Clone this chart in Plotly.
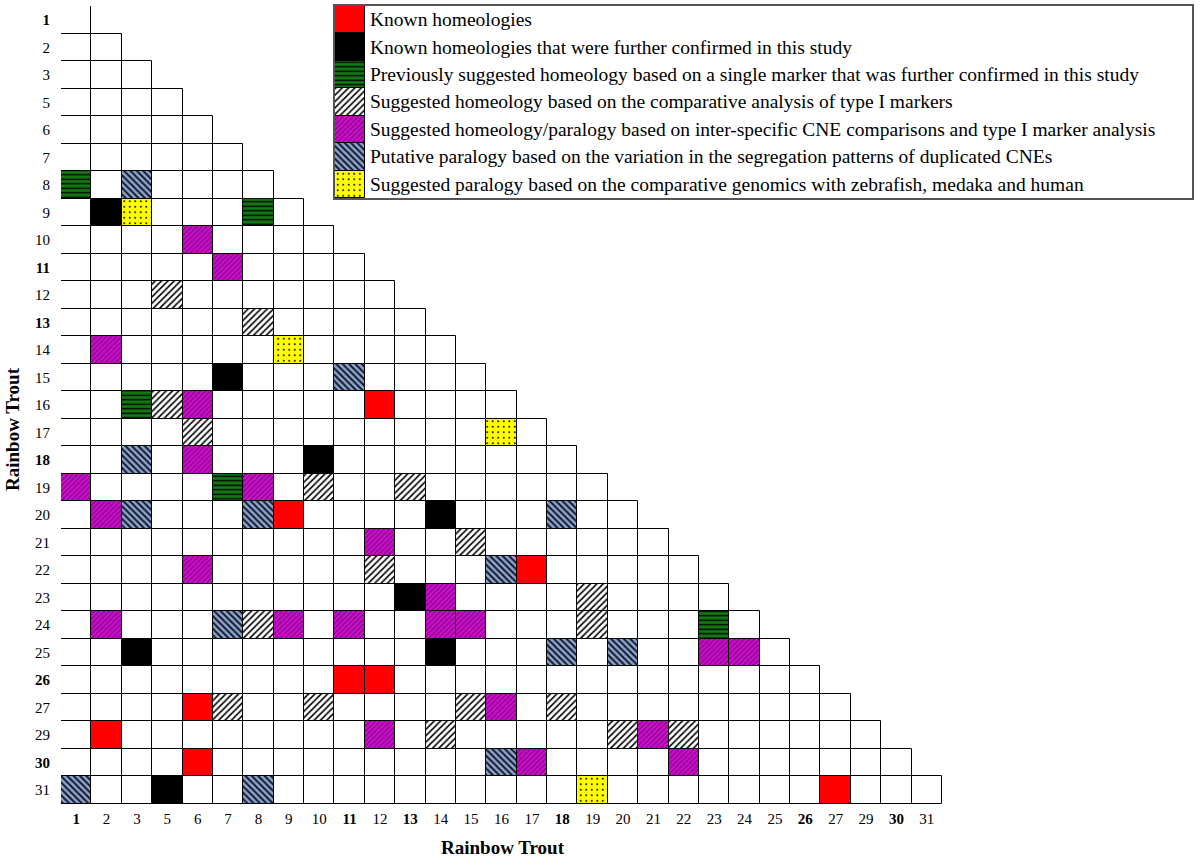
import plotly.graph_objects as go

# ---------------- data ----------------
chromosomes = [1, 2, 3, 5, 6, 7, 8, 9, 10, 11, 12, 13, 14, 15, 16, 17, 18, 19, 20,
               21, 22, 23, 24, 25, 26, 27, 29, 30, 31]
bold_labels = [1, 11, 13, 18, 26, 30]

# (row chromosome, column chromosome)
known_homeologies = [(16, 12), (20, 9), (22, 17), (26, 11), (26, 12), (27, 6),
                     (29, 2), (30, 6), (31, 27)]
known_confirmed = [(9, 2), (15, 7), (18, 10), (20, 14), (23, 13), (25, 3),
                   (25, 14), (31, 5)]
prev_single_marker = [(8, 1), (9, 8), (16, 3), (19, 7), (24, 23)]
type1_homeology = [(12, 5), (13, 8), (16, 5), (17, 6), (19, 10), (19, 13), (21, 15),
                   (22, 12), (23, 19), (24, 8), (24, 19), (27, 7), (27, 10), (27, 15),
                   (27, 18), (29, 14), (29, 20), (29, 22)]
cne_homeology_paralogy = [(10, 6), (11, 7), (14, 2), (16, 6), (18, 6), (19, 1), (19, 8),
                          (20, 2), (21, 12), (22, 6), (23, 14), (24, 2), (24, 9), (24, 11),
                          (24, 14), (24, 15), (25, 23), (25, 24), (27, 16), (29, 12),
                          (29, 21), (30, 17), (30, 22)]
putative_paralogy = [(8, 3), (15, 11), (18, 3), (20, 3), (20, 8), (20, 18), (22, 16),
                     (24, 7), (25, 18), (25, 20), (30, 16), (31, 1), (31, 8)]
suggested_paralogy = [(9, 3), (14, 9), (17, 16), (31, 19)]

legend_texts = [
    "Known homeologies",
    "Known homeologies that were further confirmed in this study",
    "Previously suggested homeology based on a single marker that was further confirmed in this study",
    "Suggested homeology based on the comparative analysis of type I markers",
    "Suggested homeology/paralogy based on inter-specific CNE comparisons and type I marker analysis",
    "Putative paralogy based on the variation in the segregation patterns of duplicated CNEs",
    "Suggested paralogy based on the comparative genomics with zebrafish, medaka and human",
]

# ---------------- styles ----------------
FONT = "Liberation Serif, Times New Roman, serif"
styles = [
    dict(color="#FF0000", pattern=None),
    dict(color="#000000", pattern=None),
    dict(color="#137813", pattern=dict(shape="-", fgcolor="#000000", size=4.5, solidity=0.3)),
    dict(color="#FFFFFF", pattern=dict(shape="/", fgcolor="#000000", size=4.5, solidity=0.35)),
    dict(color="#CC10CC", pattern=dict(shape="/", fgcolor="#7A007A", size=3.5, solidity=0.3)),
    dict(color="#8FA5C8", pattern=dict(shape="\\", fgcolor="#101830", size=4.5, solidity=0.45)),
    dict(color="#FFFF00", pattern=dict(shape=".", fgcolor="#000000", size=5.5, solidity=0.1)),
]
categories = [known_homeologies, known_confirmed, prev_single_marker, type1_homeology,
              cne_homeology_paralogy, putative_paralogy, suggested_paralogy]

idx = {c: i for i, c in enumerate(chromosomes)}

W, H = 1200, 857


def px(x):
    return x / W


def py(y):
    return 1 - y / H


def marker_for(style):
    m = dict(color=style["color"], opacity=1, line=dict(color="#000000", width=1))
    if style["pattern"] is not None:
        p = dict(style["pattern"])
        p.update(fillmode="overlay", fgopacity=1)
        m["pattern"] = p
    return m


fig = go.Figure()

# empty cells of the lower triangle
colored = set()
for cat in categories:
    colored.update(cat)
empty_rows, empty_cols = [], []
for r in chromosomes:
    for c in chromosomes:
        if idx[c] <= idx[r] and (r, c) not in colored:
            empty_rows.append(idx[r])
            empty_cols.append(idx[c])

fig.add_trace(go.Bar(
    x=empty_cols, y=[1] * len(empty_cols), base=[r - 0.5 for r in empty_rows],
    width=1, marker=dict(color="#FFFFFF", opacity=1, line=dict(color="#000000", width=1)),
    showlegend=False, hoverinfo="skip", xaxis="x", yaxis="y"))

for cat, st in zip(categories, styles):
    rows = [idx[r] for r, c in cat]
    cols = [idx[c] for r, c in cat]
    fig.add_trace(go.Bar(
        x=cols, y=[1] * len(cols), base=[r - 0.5 for r in rows], width=1,
        marker=marker_for(st), showlegend=False, hoverinfo="skip",
        xaxis="x", yaxis="y"))

# custom legend swatches
for k, st in enumerate(styles):
    fig.add_trace(go.Bar(
        x=[0], y=[1], base=[k - 0.5], width=1, marker=marker_for(st),
        showlegend=False, hoverinfo="skip", xaxis="x2", yaxis="y2"))

annotations = []
for k, t in enumerate(legend_texts):
    annotations.append(dict(
        x=0.58, y=k, xref="x2", yref="y2", text=t, showarrow=False,
        xanchor="left", yanchor="middle", font=dict(family=FONT, size=19.5, color="#000000")))

annotations.append(dict(
    x=px(503), y=py(847), xref="paper", yref="paper",
    text="<b>Rainbow Trout</b>", showarrow=False, xanchor="center", yanchor="middle",
    font=dict(family=FONT, size=19, color="#000000")))
annotations.append(dict(
    x=px(13), y=py(429), xref="paper", yref="paper",
    text="<b>Rainbow Trout</b>", showarrow=False, textangle=-90,
    xanchor="center", yanchor="middle",
    font=dict(family=FONT, size=19, color="#000000")))

ticktext = [f"<b>{c}</b>" if c in bold_labels else str(c) for c in chromosomes]
tick_font = dict(family=FONT, size=15, color="#000000")

fig.update_layout(
    width=W, height=H, autosize=False,
    margin=dict(l=0, r=0, t=0, b=0),
    paper_bgcolor="#FFFFFF", plot_bgcolor="rgba(0,0,0,0)",
    barmode="overlay", bargap=0,
    annotations=annotations,
    xaxis=dict(domain=[px(61), px(942)], range=[-0.5, 28.5],
               tickvals=list(range(len(chromosomes))), ticktext=ticktext,
               tickfont=tick_font, ticks="", showgrid=False, zeroline=False,
               showline=False, ticklabelstandoff=4, fixedrange=True),
    yaxis=dict(domain=[py(804), py(6)], range=[28.5, -0.5],
               tickvals=list(range(len(chromosomes))), ticktext=ticktext,
               tickfont=tick_font, ticks="", showgrid=False, zeroline=False,
               showline=False, ticklabelstandoff=10, fixedrange=True),
    xaxis2=dict(domain=[px(335), px(1192)], range=[-0.5, 27.69],
                anchor="y2", showticklabels=False, ticks="", showgrid=False,
                zeroline=False, showline=True, mirror=True, linecolor="#555555",
                linewidth=2, fixedrange=True),
    yaxis2=dict(domain=[py(198), py(6)], range=[6.5, -0.5],
                anchor="x2", showticklabels=False, ticks="", showgrid=False,
                zeroline=False, showline=True, mirror=True, linecolor="#555555",
                linewidth=2, fixedrange=True),
)

fig.write_html(
    "out.html",
    config={"displayModeBar": False},
    post_script="document.body.style.margin='0';document.body.style.overflow='hidden';",
)
